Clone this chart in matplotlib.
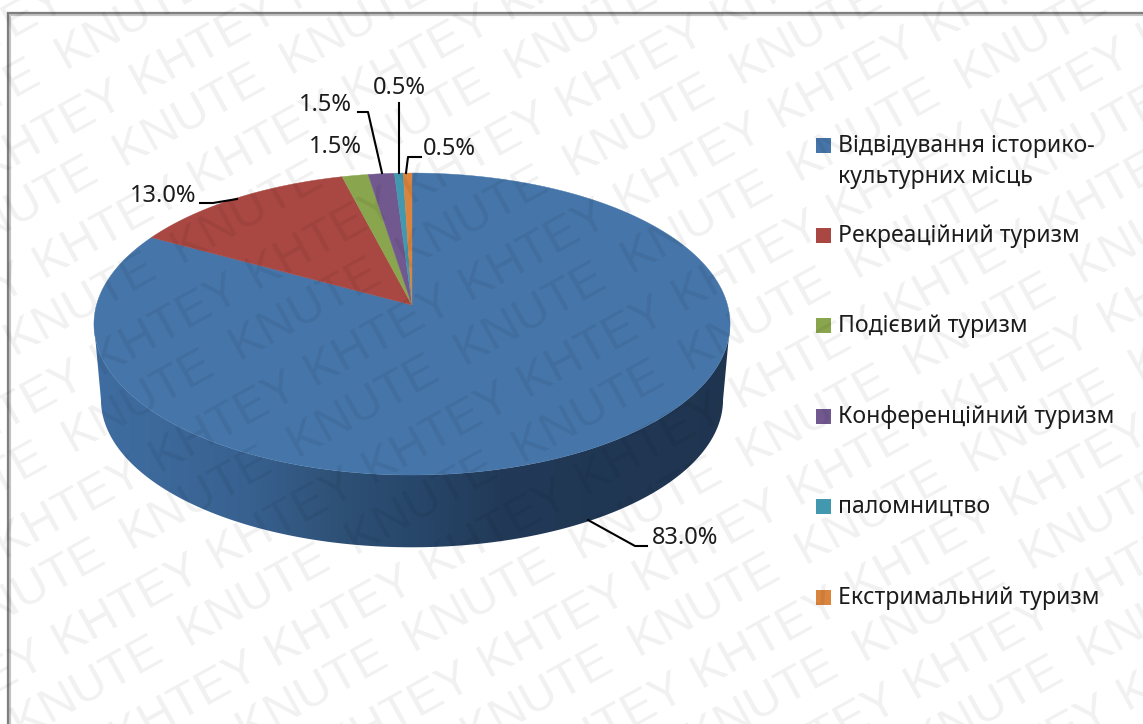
import numpy as np
import matplotlib
matplotlib.use('Agg')
import matplotlib.pyplot as plt
from matplotlib.patches import Polygon, Rectangle

categories = ['Відвідування історико-\nкультурних місць', 'Рекреаційний туризм', 'Подієвий туризм',
              'Конференційний туризм', 'паломництво', 'Екстримальний туризм']
shares = [83.0, 13.0, 1.5, 1.5, 0.5, 0.5]
colors = ['#4575a9', '#a94743', '#89a54e', '#71588f', '#4198af', '#db843d']

# pie geometry in pixels, y pointing down
APEX_X, APEX_Y = 412, 305
RADIUS_X, RADIUS_Y = 315.5, 148.6
TILT = 0.126
DEPTH = 76
BOTTOM_SCALE = 0.978

# text position, then the leader line for each slice
label_pos = [(685, 538), (163, 196), (335, 147), (325, 105), (399, 88), (449, 149)]
leaders = [[(588, 520), (635, 546), (647, 546)],
           [(200, 203), (213, 203), (237, 199)],
           None,
           [(358, 112), (368, 112), (382, 173)],
           [(399, 103), (399, 173)],
           [(421, 157), (408, 157), (406, 173)]]
legend_y = [145, 235, 325, 416, 506, 597]

# side wall shade from left to right
side_x = [90, 250, 330, 420, 500, 740]
side_r = [0x40, 0x38, 0x2f, 0x27, 0x22, 0x1f]
side_g = [0x6e, 0x61, 0x52, 0x46, 0x3a, 0x34]
side_b = [0xa2, 0x90, 0x78, 0x69, 0x58, 0x4f]

# background stamp: word, first letter centre, step along a row
stamps = [('KHTEY', (145, 72), (155, -86)), ('KNUTE', (70, 46), (167, -92))]
ROW_STEP = (58, 97)


def project(theta, scale=1.0, drop=0.0):
    s, c = np.sin(theta), np.cos(theta)
    w = 1 + TILT * c
    return APEX_X + scale * RADIUS_X * s / w, APEX_Y + drop - scale * RADIUS_Y * c / w


def rim(start, end, scale=1.0, drop=0.0):
    n = max(2, int(abs(end - start) * 120))
    x, y = project(np.linspace(start, end, n), scale, drop)
    return np.column_stack([x, y])


def draw_watermark(ax):
    for word, first, step in stamps:
        for j in range(-12, 14):
            for i in range(-12, 14):
                # anchor is the baseline start, a little off the letter centre
                x = first[0] + i * step[0] + j * ROW_STEP[0] - 5
                y = first[1] + i * step[1] + j * ROW_STEP[1] + 23
                if -190 < x < 1150 and -20 < y < 830:
                    ax.text(x, y, word, fontsize=35, family='Liberation Sans', color='black', alpha=0.058,
                            rotation=29, rotation_mode='anchor', ha='left', va='baseline', zorder=10,
                            clip_on=True)


def main():
    fig = plt.figure(figsize=(11.43, 7.24), dpi=100)
    ax = fig.add_axes([0, 0, 1, 1])

    # outer frame, open on the right and at the bottom
    ax.plot([8.5, 8.5, 1143], [724, 13.5, 13.5], color='#c4c4c4', lw=3.0, solid_joinstyle='miter', zorder=1)
    ax.plot([8, 8, 1143], [724, 13, 13], color='#7f7f7f', lw=1.6, solid_joinstyle='miter', zorder=1)

    # front wall of the disc, a horizontal gradient cut to the wall outline
    edge = np.arccos(-TILT)
    wall = np.vstack([rim(edge, 2 * np.pi - edge), rim(2 * np.pi - edge, edge, BOTTOM_SCALE, DEPTH)])
    xs = np.arange(90, 741)
    shade = np.column_stack([np.interp(xs, side_x, side_r), np.interp(xs, side_x, side_g),
                             np.interp(xs, side_x, side_b)]) / 255
    img = ax.imshow(shade[np.newaxis, :, :], extent=(90, 741, 560, 300), aspect='auto', zorder=2,
                    interpolation='bilinear')
    outline = Polygon(wall, closed=True, facecolor='none', edgecolor='none', transform=ax.transData)
    ax.add_patch(outline)
    img.set_clip_path(outline)

    # top face, clockwise from twelve o'clock
    total = sum(shares)
    start = 0.0
    for share, color in zip(shares, colors):
        end = start + share / total * 2 * np.pi
        pts = np.vstack([[(APEX_X, APEX_Y)], rim(start, end)])
        ax.add_patch(Polygon(pts, closed=True, facecolor=color, edgecolor=color, lw=0.3, zorder=3))
        start = end

    for share, pos, leader in zip(shares, label_pos, leaders):
        ax.text(pos[0], pos[1], '%.1f%%' % share, fontsize=17, family='Noto Sans', color='#1c1c1c',
                ha='center', va='center', zorder=5)
        if leader:
            ax.plot([p[0] for p in leader], [p[1] for p in leader], color='black', lw=1.5, zorder=4)

    for name, color, y in zip(categories, colors, legend_y):
        ax.add_patch(Rectangle((816, y - 7.5), 15, 15, facecolor=color, edgecolor='none', zorder=3))
        if '\n' in name:
            first, second = name.split('\n')
            ax.text(838, y + 1, first, fontsize=16.6, family='Noto Sans', color='#1c1c1c', va='center', zorder=5)
            ax.text(838, y + 32, second, fontsize=16.6, family='Noto Sans', color='#1c1c1c', va='center', zorder=5)
        else:
            ax.text(838, y + 1, name, fontsize=16.6, family='Noto Sans', color='#1c1c1c', va='center', zorder=5)

    draw_watermark(ax)

    ax.set_xlim(0, 1143)
    ax.set_ylim(724, 0)
    ax.axis('off')
    fig.savefig('out.png', dpi=100)


if __name__ == '__main__':
    main()
